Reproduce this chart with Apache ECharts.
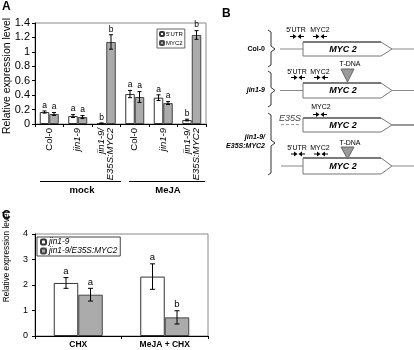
<!DOCTYPE html>
<html>
<head>
<meta charset="utf-8">
<script src="https://cdn.jsdelivr.net/npm/echarts@6/dist/echarts.min.js"></script>
<style>html,body{margin:0;padding:0;background:#fff}#c{width:414px;height:350px}</style>
</head>
<body>
<div id="c"></div>
<script>
// ---------- Panel A data ----------
const categoriesA = ['Col-0', 'jin1-9', 'jin1-9/E35S:MYC2', 'Col-0', 'jin1-9', 'jin1-9/E35S:MYC2'];
const groupsA = ['mock', 'MeJA'];
const utrValues = [0.166, 0.11, 0.01, 0.415, 0.365, 0.055];
const utrErrors = [0.015, 0.02, 0.005, 0.05, 0.04, 0.012];
const utrLetters = ['a', 'a', 'b', 'a', 'a', 'b'];
const myc2Values = [0.139, 0.097, 1.137, 0.374, 0.29, 1.234];
const myc2Errors = [0.02, 0.02, 0.1, 0.075, 0.02, 0.06];
const myc2Letters = ['a', 'a', 'b', 'a', 'a', 'b'];
const yTicksA = { min: 0, max: 1.4, interval: 0.2 };

// ---------- Panel C data ----------
const categoriesC = ['CHX', 'MeJA + CHX'];
const jinValues = [2.08, 2.33];
const jinErrors = [0.21, 0.5];
const jinLetters = ['a', 'a'];
const e35sValues = [1.62, 0.73];
const e35sErrors = [0.25, 0.26];
const e35sLetters = ['a', 'b'];
const yTicksC = { min: 0, max: 4, interval: 1 };

const FONT = '"Liberation Sans", Arial, sans-serif';
const GRAY = '#ababab';
const BAR_A = 9.5, BAR_C = 24.5;

function errSeries(name, xi, vals, errs, letters, offset, fontSize, capW) {
  return {
    type: 'custom', name: name + '_err', xAxisIndex: xi, yAxisIndex: xi, z: 5,
    silent: true,
    data: vals.map((v, i) => [i, v, errs[i]]),
    renderItem: function (params, api) {
      const i = api.value(0), v = api.value(1), e = api.value(2);
      const x = api.coord([i, v])[0] + offset;
      const yt = api.coord([i, v + e])[1];
      const yb = api.coord([i, Math.max(v - e, 0)])[1];
      const st = { stroke: '#000', lineWidth: 1 };
      return {
        type: 'group', children: [
          { type: 'line', shape: { x1: x, y1: yt, x2: x, y2: yb }, style: st },
          { type: 'line', shape: { x1: x - capW, y1: yt, x2: x + capW, y2: yt }, style: st },
          { type: 'line', shape: { x1: x - capW, y1: yb, x2: x + capW, y2: yb }, style: st },
          { type: 'text', style: { text: letters[params.dataIndex], x: x, y: yt - 1, align: 'center', verticalAlign: 'bottom', fontSize: fontSize, fontFamily: FONT, fill: '#000' } }
        ]
      };
    }
  };
}

// ---------- Panel B diagram helpers ----------
const G = [];
function txt(t, x, y, size, opts) {
  G.push(Object.assign({ type: 'text', x: x, y: y, style: Object.assign({ text: t, fontSize: size, fontFamily: FONT, fill: '#000', align: 'center', verticalAlign: 'middle' }, opts || {}) }));
}
function ln(x1, y1, x2, y2, color, w, dash) {
  G.push({ type: 'line', shape: { x1: x1, y1: y1, x2: x2, y2: y2 }, style: { stroke: color, lineWidth: w || 1, lineDash: dash || null } });
}
function primerPair(x, y) {
  ln(x, y, x + 4, y, '#000', 1);
  G.push({ type: 'polygon', shape: { points: [[x + 3, y - 2.5], [x + 6.5, y], [x + 3, y + 2.5]] }, style: { fill: '#000' } });
  ln(x + 10, y, x + 14, y, '#000', 1);
  G.push({ type: 'polygon', shape: { points: [[x + 11, y - 2.5], [x + 7.5, y], [x + 11, y + 2.5]] }, style: { fill: '#000' } });
}
function gene(yc, h) {
  G.push({ type: 'polygon', shape: { points: [[303, yc - h / 2], [381, yc - h / 2], [392, yc], [381, yc + h / 2], [303, yc + h / 2]] }, style: { fill: '#fff', stroke: '#777', lineWidth: 1 } });
  ln(303, yc - h / 2, 381, yc - h / 2, '#666', 1.6);
  txt('MYC 2', 343, yc + 0.5, 9, { fontWeight: 'bold', fontStyle: 'italic' });
}
function brace(x, y1, ym, y2) {
  G.push({ type: 'polyline', shape: { points: [[x, y1], [x + 3, y1 + 2], [x + 3, ym - 3], [x + 7, ym], [x + 3, ym + 3], [x + 3, y2 - 2], [x, y2]] }, style: { stroke: '#333', lineWidth: 1, fill: null } });
}
function tdna(yText, yTop, yBot) {
  txt('T-DNA', 350, yText, 7);
  G.push({ type: 'polygon', shape: { points: [[341, yTop], [354, yTop], [347.5, yBot]] }, style: { fill: '#9a9a9a', stroke: '#666', lineWidth: 1 } });
}

// panel letters
txt('A', 2, 1, 12, { fontWeight: 'bold', align: 'left', verticalAlign: 'top' });
txt('B', 222, 8, 12, { fontWeight: 'bold', align: 'left', verticalAlign: 'top' });
txt('C', 2, 210, 12, { fontWeight: 'bold', align: 'left', verticalAlign: 'top' });

// y titles
G.push({ type: 'text', x: 7, y: 76, rotation: Math.PI / 2, style: { text: 'Relative expression level', fontSize: 10.5, fontFamily: FONT, fill: '#000', align: 'center', verticalAlign: 'middle' } });
G.push({ type: 'text', x: 7, y: 257, rotation: Math.PI / 2, style: { text: 'Relative expression level', fontSize: 8.2, fontFamily: FONT, fill: '#000', align: 'center', verticalAlign: 'middle' } });

// group labels panel A
ln(40, 181.5, 121, 181.5, '#000', 1);
ln(129, 181.5, 205, 181.5, '#000', 1);
txt(groupsA[0], 82, 190, 9.5, { fontWeight: 'bold' });
txt(groupsA[1], 168, 190, 9.5, { fontWeight: 'bold' });

// Col-0 construct
brace(268, 30, 49, 67);
txt('Col-0', 265, 49, 7, { fontWeight: 'bold', align: 'right' });
ln(280, 49, 303, 49, '#888', 1);
ln(392, 49, 414, 49, '#888', 1);
gene(49, 14);
txt("5'UTR", 296, 30, 7);
txt('MYC2', 320, 30, 7);
primerPair(290, 36.5);
primerPair(313, 36.5);

// jin1-9 construct
brace(268, 71, 90.5, 107);
txt('jin1-9', 265, 90.5, 7, { fontWeight: 'bold', fontStyle: 'italic', align: 'right' });
ln(280, 90.5, 303, 90.5, '#888', 1);
ln(392, 90.5, 414, 90.5, '#888', 1);
gene(90.5, 15);
txt("5'UTR", 297, 72, 7);
txt('MYC2', 320, 72, 7);
primerPair(291, 77.5);
primerPair(314, 77.5);
tdna(64, 69, 82);

// jin1-9/E35S:MYC2
brace(268, 113, 143, 175);
txt('jin1-9/', 265, 137, 7, { fontWeight: 'bold', fontStyle: 'italic', align: 'right' });
txt('E35S:MYC2', 265, 146, 7, { fontWeight: 'bold', fontStyle: 'italic', align: 'right' });
txt('E35S', 290, 118, 9, { fontStyle: 'italic', fill: '#444' });
ln(281, 124.5, 301, 124.5, '#999', 1, [3, 2]);
ln(392, 125, 414, 125, '#333', 1);
gene(125, 14);
txt('MYC2', 321, 107, 7);
primerPair(313, 114.5);
// second construct
ln(281, 166, 303, 166, '#888', 1);
ln(392, 166, 414, 166, '#888', 1);
gene(166, 16);
txt("5'UTR", 297, 148, 7);
txt('MYC2', 320, 148, 7);
primerPair(291, 154);
primerPair(314, 154);
tdna(143, 147, 159);

const chart = echarts.init(document.getElementById('c'), null, { renderer: 'canvas' });

const axisLine = { show: true, lineStyle: { color: '#000', width: 1 } };

chart.setOption({
  animation: false,
  textStyle: { fontFamily: FONT },
  grid: [
    { left: 35, top: 23, width: 171, height: 101, show: true, borderColor: '#8a8a8a', borderWidth: 1, backgroundColor: '#fff' },
    { left: 35, top: 234, width: 173, height: 102, show: true, borderColor: '#8a8a8a', borderWidth: 1, backgroundColor: '#fff' }
  ],
  legend: [
    {
      data: ["5'UTR", 'MYC2'], left: 157, top: 29, orient: 'vertical',
      borderColor: '#666', borderWidth: 1, padding: [2, 2, 2, 2], itemWidth: 4, itemHeight: 4, itemGap: 3,
      textStyle: { fontSize: 6, color: '#000', fontFamily: FONT, padding: [0, 0, 0, -3] }
    },
    {
      data: ['jin1-9', 'jin1-9/E35S:MYC2'], left: 37, top: 237, orient: 'vertical',
      borderColor: '#444', borderWidth: 1, padding: [1, 3, 1, 3], itemWidth: 5, itemHeight: 5, itemGap: 1,
      textStyle: { fontSize: 8.3, color: '#000', fontFamily: FONT, fontStyle: 'italic', padding: [0, 0, 0, -2] }
    }
  ],
  xAxis: [
    {
      type: 'category', gridIndex: 0, data: categoriesA,
      axisLine: axisLine, axisTick: { show: true, length: 3, lineStyle: { color: '#000' } },
      axisLabel: {
        interval: 0, rotate: 90, margin: 4, color: '#000', fontSize: 9.5,
        formatter: function (v) {
          if (v === 'Col-0') return '{n|Col-0}';
          if (v.indexOf('/') > 0) { const p = v.split('/'); return '{i|' + p[0] + '/}\n{i|' + p[1] + '}'; }
          return '{i|' + v + '}';
        },
        rich: { n: { fontSize: 9.5, fontFamily: FONT }, i: { fontSize: 9.5, fontStyle: 'italic', fontFamily: FONT, lineHeight: 9 } }
      },
      splitLine: { show: false }
    },
    {
      type: 'category', gridIndex: 1, data: categoriesC,
      axisLine: axisLine, axisTick: { show: true, length: 3, lineStyle: { color: '#000' } },
      axisLabel: { interval: 0, margin: 4, color: '#000', fontSize: 8.5, fontWeight: 'bold', fontFamily: FONT },
      splitLine: { show: false }
    }
  ],
  yAxis: [
    {
      type: 'value', gridIndex: 0, min: yTicksA.min, max: yTicksA.max, interval: yTicksA.interval,
      axisLine: axisLine, axisTick: { show: true, length: 3, lineStyle: { color: '#000' } },
      axisLabel: { margin: 5, color: '#000', fontSize: 11, fontFamily: FONT },
      splitLine: { show: false }
    },
    {
      type: 'value', gridIndex: 1, min: yTicksC.min, max: yTicksC.max, interval: yTicksC.interval,
      axisLine: axisLine, axisTick: { show: true, length: 3, lineStyle: { color: '#000' } },
      axisLabel: { margin: 7, color: '#000', fontSize: 9, fontFamily: FONT },
      splitLine: { show: false }
    }
  ],
  series: [
    { name: "5'UTR", type: 'bar', xAxisIndex: 0, yAxisIndex: 0, data: utrValues, barWidth: BAR_A, barGap: '0%',
      itemStyle: { color: '#fff', borderColor: '#333', borderWidth: 1 } },
    { name: 'MYC2', type: 'bar', xAxisIndex: 0, yAxisIndex: 0, data: myc2Values, barWidth: BAR_A, barGap: '0%',
      itemStyle: { color: GRAY, borderColor: '#444', borderWidth: 1 } },
    errSeries("5'UTR", 0, utrValues, utrErrors, utrLetters, -BAR_A / 2, 8.5, 2),
    errSeries('MYC2', 0, myc2Values, myc2Errors, myc2Letters, BAR_A / 2, 8.5, 2),
    { name: 'jin1-9', type: 'bar', xAxisIndex: 1, yAxisIndex: 1, data: jinValues, barWidth: BAR_C, barGap: '0%',
      itemStyle: { color: '#fff', borderColor: '#333', borderWidth: 1 } },
    { name: 'jin1-9/E35S:MYC2', type: 'bar', xAxisIndex: 1, yAxisIndex: 1, data: e35sValues, barWidth: BAR_C, barGap: '0%',
      itemStyle: { color: GRAY, borderColor: '#444', borderWidth: 1 } },
    errSeries('jin1-9', 1, jinValues, jinErrors, jinLetters, -BAR_C / 2, 9.5, 2.5),
    errSeries('jin1-9/E35S:MYC2', 1, e35sValues, e35sErrors, e35sLetters, BAR_C / 2, 9.5, 2.5)
  ],
  graphic: G
});
</script>
</body>
</html>
